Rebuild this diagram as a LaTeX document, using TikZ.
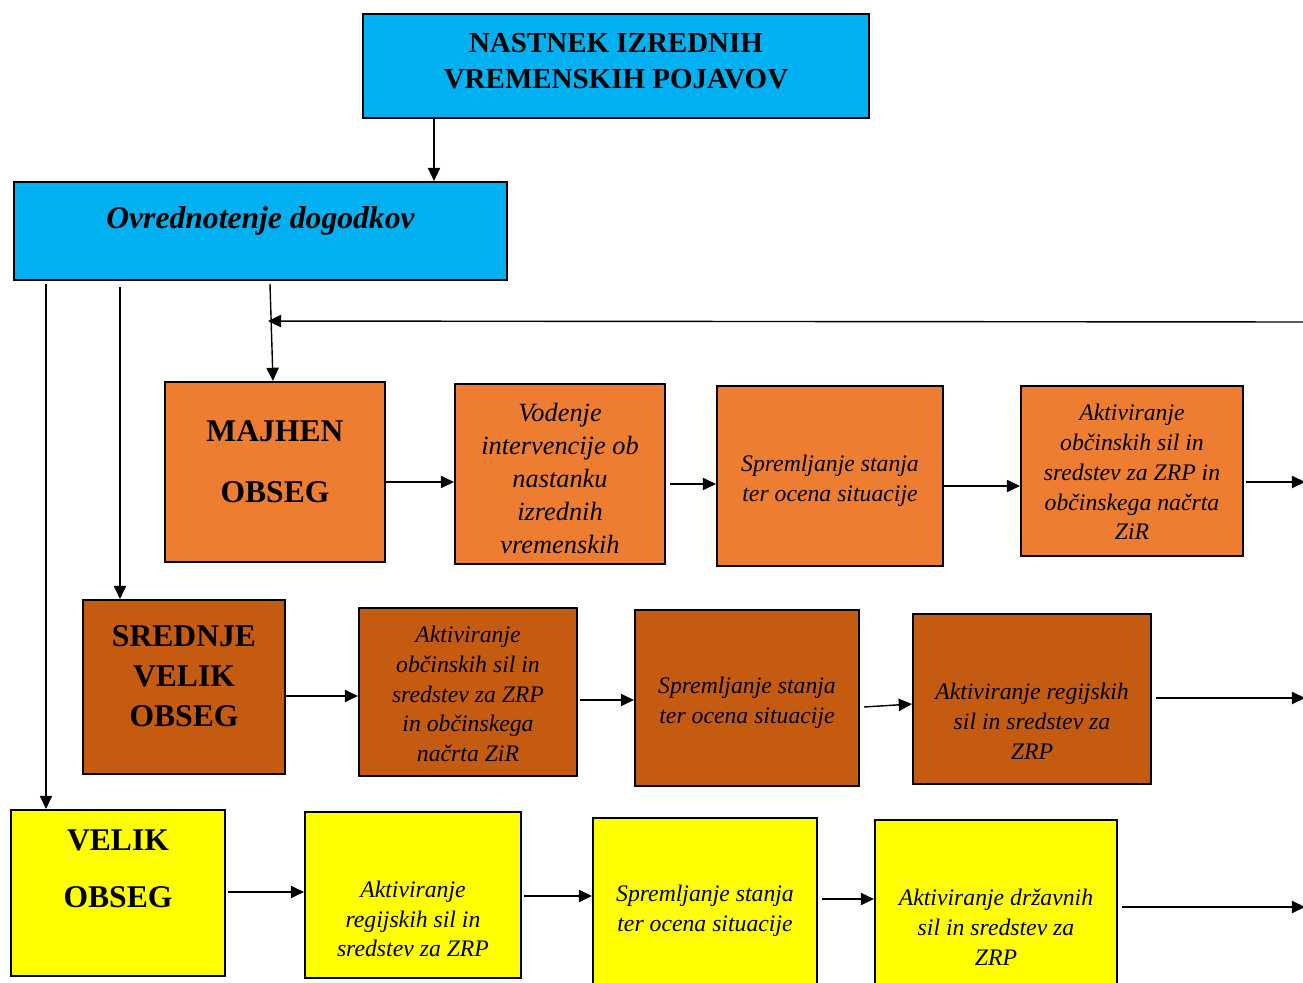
\documentclass[tikz,border=0pt]{standalone}
\usepackage{fontspec}
\setmainfont{Liberation Serif}
\usetikzlibrary{arrows.meta,calc}
\definecolor{Sky}{HTML}{00B0F0}
\definecolor{Orange}{HTML}{ED7D31}
\definecolor{Rust}{HTML}{C55A11}
\definecolor{Lemon}{HTML}{FFFF00}

\begin{document}
\begin{tikzpicture}[x=0.02cm,y=-0.02cm,
    box/.style={draw,line width=1.2pt,inner sep=0pt},
    arr/.style={line width=0.8pt,-{Triangle[length=7.5pt,width=7pt]}},
    head/.style={align=center,font=\fontsize{16.5}{20.4}\selectfont\bfseries},
    range/.style={align=center,font=\fontsize{18}{#1}\selectfont\bfseries},
    step15/.style={align=center,font=\fontsize{15}{18.7}\selectfont\itshape},
    stepbox/.style={align=center,font=\fontsize{13.5}{17}\selectfont\itshape}]
  \useasboundingbox (0,0) rectangle (1303,983);

  % top boxes
  \node[box,fill=Sky,minimum width=10.12cm,minimum height=2.08cm] (top) at (616,66) {};
  \node[head] (top-t) at ($(top)+(0,-5)$) {NASTNEK IZREDNIH\\VREMENSKIH POJAVOV};
  \node[box,fill=Sky,minimum width=9.86cm,minimum height=1.96cm] (ovr) at (260.5,231) {};
  \node[font=\fontsize{18}{22}\selectfont\bfseries\itshape] (ovr-t) at ($(ovr)+(0,-10)$) {Ovrednotenje dogodkov};

  % row 1
  \node[box,fill=Orange,minimum width=4.4cm,minimum height=3.6cm] (majhen) at (275,472) {};
  \node[range=34.6] (majhen-t) at ($(majhen)+(0,-10.5)$) {MAJHEN\\OBSEG};
  \node[box,fill=Orange,minimum width=4.2cm,minimum height=3.6cm] (vod) at (560,474) {};
  \node[step15] (vod-t) at ($(vod)+(0,4.5)$) {Vodenje\\intervencije ob\\nastanku\\izrednih\\vremenskih};
  \node[box,fill=Orange,minimum width=4.52cm,minimum height=3.6cm] (spr1) at (830,476) {};
  \node[stepbox] (spr1-t) at ($(spr1)+(0,5)$) {Spremljanje stanja\\ter ocena situacije};
  \node[box,fill=Orange,minimum width=4.44cm,minimum height=3.4cm] (akt1) at (1132,471) {};
  \node[stepbox] (akt1-t) at ($(akt1)+(0,1)$) {Aktiviranje\\občinskih sil in\\sredstev za ZRP in\\občinskega načrta\\ZiR};

  % row 2
  \node[box,fill=Rust,minimum width=4.04cm,minimum height=3.48cm] (sred) at (184,687) {};
  \node[range=22.7] (sred-t) at ($(sred)+(0,-11)$) {SREDNJE\\VELIK\\OBSEG};
  \node[box,fill=Rust,minimum width=4.36cm,minimum height=3.36cm] (akt2) at (468,692) {};
  \node[stepbox] (akt2-t) at ($(akt2)+(0,2)$) {Aktiviranje\\občinskih sil in\\sredstev za ZRP\\in občinskega\\načrta ZiR};
  \node[box,fill=Rust,minimum width=4.48cm,minimum height=3.52cm] (spr2) at (747,698) {};
  \node[stepbox] (spr2-t) at ($(spr2)+(0,5)$) {Spremljanje stanja\\ter ocena situacije};
  \node[box,fill=Rust,minimum width=4.76cm,minimum height=3.4cm] (reg2) at (1032,699) {};
  \node[stepbox] (reg2-t) at ($(reg2)+(0,22.5)$) {Aktiviranje regijskih\\sil in sredstev za\\ZRP};

  % row 3
  \node[box,fill=Lemon,minimum width=4.28cm,minimum height=3.32cm] (velik) at (118,893) {};
  \node[range=32.3] (velik-t) at ($(velik)+(0,-24.5)$) {VELIK\\OBSEG};
  \node[box,fill=Lemon,minimum width=4.32cm,minimum height=3.32cm] (reg3) at (413,895) {};
  \node[stepbox] (reg3-t) at ($(reg3)+(0,24)$) {Aktiviranje\\regijskih sil in\\sredstev za ZRP};
  \node[box,fill=Lemon,minimum width=4.48cm,minimum height=3.64cm] (spr3) at (705,909) {};
  \node[stepbox] (spr3-t) at ($(spr3)+(0,2)$) {Spremljanje stanja\\ter ocena situacije};
  \node[box,fill=Lemon,minimum width=4.84cm,minimum height=3.6cm] (drz) at (996,910) {};
  \node[stepbox] (drz-t) at ($(drz)+(0,17)$) {Aktiviranje državnih\\sil in sredstev za\\ZRP};

  % free ends at the right edge
  \coordinate (fb) at (1305,322);
  \coordinate (e1) at (1305,482);
  \coordinate (e2) at (1305,698);
  \coordinate (e3) at (1305,907);

  % vertical connectors
  \draw[arr] ($(top.south west)+(72,0)$) coordinate (t1) -- (t1 |- ovr.north);
  \draw[arr] ($(ovr.south west)+(33,3)$) coordinate (v1) -- (v1 |- velik.north);
  \draw[arr] ($(ovr.south west)+(107,6)$) coordinate (v2) -- (v2 |- sred.north);
  \draw[arr] ($(ovr.south west)+(257,3)$) -- ($(majhen.north)+(-2,0)$);
  \draw[arr] (fb) -- ($(ovr.south west)+(255,40)$);

  % row connectors
  \draw[arr] ($(majhen.east)+(0,10)$) -- ($(vod.west)+(0,8)$);
  \draw[arr] ($(vod.east)+(4,10)$) -- ($(spr1.west)+(0,8)$);
  \draw[arr] ($(spr1.east)+(0,10)$) -- ($(akt1.west)+(0,15)$);
  \draw[arr] ($(akt1.east)+(2,11)$) -- (e1);

  \draw[arr] ($(sred.east)+(0,9)$) -- ($(akt2.west)+(0,4)$);
  \draw[arr] ($(akt2.east)+(2,8)$) -- ($(spr2.west)+(0,2)$);
  \draw[arr] ($(spr2.east)+(4,9)$) -- ($(reg2.west)+(0,5)$);
  \draw[arr] ($(reg2.east)+(4,-1)$) -- (e2);

  \draw[arr] ($(velik.east)+(2,-1)$) -- ($(reg3.west)+(0,-3)$);
  \draw[arr] ($(reg3.east)+(2,1)$) -- ($(spr3.west)+(0,-13)$);
  \draw[arr] ($(spr3.east)+(4,-10)$) -- ($(drz.west)+(0,-11)$);
  \draw[arr] ($(drz.east)+(4,-3)$) -- (e3);
\end{tikzpicture}
\end{document}
